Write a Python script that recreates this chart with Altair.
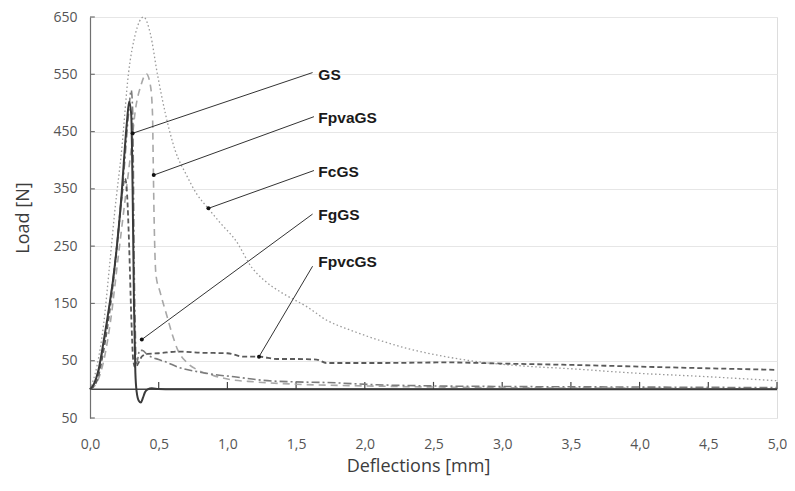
import altair as alt
import pandas as pd

# ---------------- data ----------------
gs_x = [0, 0.03, 0.06, 0.10, 0.14, 0.17, 0.20, 0.23, 0.25, 0.27, 0.285, 0.30, 0.31, 0.32, 0.33, 0.34,
        0.355, 0.37, 0.385, 0.40, 0.42, 0.45, 0.50, 0.60, 1.0, 2.0, 3.0, 4.0, 5.0]
gs_y = [0, 10, 32, 85, 145, 195, 260, 340, 410, 470, 502, 480, 350, 150, 30, -5,
        -20, -23, -15, -5, 0, 2, 0.5, 0, 0, 0, 0, 0, 0]

fpva_x = [0, 0.05, 0.10, 0.15, 0.20, 0.25, 0.30, 0.33, 0.37, 0.41, 0.44, 0.455, 0.46, 0.465, 0.47,
          0.48, 0.51, 0.56, 0.60, 0.64, 0.70, 0.80, 0.90, 1.0, 1.2, 1.5, 2.0, 3.0, 4.0, 5.0]
fpva_y = [0, 12, 50, 120, 220, 320, 420, 487, 530, 551, 530, 480, 400, 320, 260,
          200, 170, 128, 95, 68, 48, 32, 24, 18, 13, 9, 6, 3, 2, 1]

fc_x = [0, 0.05, 0.10, 0.14, 0.18, 0.23, 0.28, 0.33, 0.39, 0.44, 0.49, 0.55, 0.62, 0.70, 0.78, 0.86,
        0.95, 1.06, 1.18, 1.27, 1.40, 1.49, 1.58, 1.72, 1.90, 2.09, 2.30, 2.59, 2.83, 3.20, 3.50,
        3.92, 4.50, 5.0]
fc_y = [0, 40, 115, 210, 310, 417, 551, 620, 650, 620, 551, 480, 417, 375, 340, 316,
        290, 260, 212, 190, 168, 156, 144, 121, 103, 87, 72, 57, 48, 40, 36,
        29, 22, 15]

fg_x = [0, 0.05, 0.10, 0.15, 0.20, 0.25, 0.28, 0.30, 0.31, 0.315, 0.32, 0.33, 0.335, 0.345, 0.36,
        0.38, 0.42, 0.50, 0.55, 0.65, 0.78, 0.90, 1.05, 1.25, 1.50, 1.72, 2.09, 2.5, 3.0, 4.0, 5.0]
fg_y = [0, 20, 80, 160, 260, 390, 480, 522, 490, 400, 250, 100, 45, 50, 68,
        68, 60, 52, 48, 38, 31, 26, 22, 16, 13, 12, 8, 6, 5, 4, 3]

fpvc_x = [0, 0.05, 0.10, 0.15, 0.20, 0.23, 0.255, 0.27, 0.285, 0.30, 0.315, 0.33, 0.35, 0.38, 0.42,
          0.50, 0.64, 0.80, 1.00, 1.12, 1.23, 1.36, 1.50, 1.65, 1.72, 2.09, 2.60, 3.00, 3.44, 4.28, 5.0]
fpvc_y = [0, 15, 70, 150, 260, 335, 368, 340, 250, 130, 50, 38, 45, 58, 62,
          63, 66, 64, 63, 57, 57, 53, 53, 52, 46, 46, 47, 45, 43, 38, 34]

series_names = ["FcGS", "FpvaGS", "FpvcGS", "FgGS", "GS"]
series_x = [fc_x, fpva_x, fpvc_x, fg_x, gs_x]
series_y = [fc_y, fpva_y, fpvc_y, fg_y, gs_y]

label_names = ["GS", "FpvaGS", "FcGS", "FgGS", "FpvcGS"]
label_x = [1.64, 1.64, 1.64, 1.64, 1.64]
label_y = [549, 473, 379, 304, 222]
pointer_x = [0.31, 0.464, 0.862, 0.377, 1.23]
pointer_y = [447, 374, 316, 87, 57]
leader_end_x = [1.62, 1.63, 1.63, 1.62, 1.62]
leader_end_y = [553, 476, 382, 306, 215]

x_ticks = [0.0, 0.5, 1.0, 1.5, 2.0, 2.5, 3.0, 3.5, 4.0, 4.5, 5.0]
y_ticks = [-50, 50, 150, 250, 350, 450, 550, 650]

# ---------------- styles ----------------
styles = {
    "FcGS":   dict(color="#9a9a9a", strokeDash=[1.5, 2.5], strokeWidth=1.3),
    "FpvaGS": dict(color="#a8a8a8", strokeDash=[7, 5], strokeWidth=1.6),
    "FpvcGS": dict(color="#5a5a5a", strokeDash=[5, 3], strokeWidth=1.8),
    "FgGS":   dict(color="#7c7c7c", strokeDash=[8, 3, 2, 3], strokeWidth=1.6),
    "GS":     dict(color="#3a3a3a", strokeWidth=2),
}

FONT = "Open Sans"
xscale = alt.Scale(domain=[0, 5], nice=False, zero=False)
yscale = alt.Scale(domain=[-50, 650], nice=False, zero=False)

x_enc = alt.X("x:Q", scale=xscale, axis=alt.Axis(
    values=x_ticks, title="Deflections [mm]", grid=False, ticks=False, domain=False,
    labelFlush=False,
    labelExpr="replace(format(datum.value, '.1f'), '.', ',')",
    labelFont=FONT, labelFontSize=14, labelColor="#555555", labelPadding=19,
    titleFont=FONT, titleFontSize=18, titleFontWeight="normal", titleColor="#3c3c3c",
    titlePadding=6, titleX=328))
y_enc = alt.Y("y:Q", scale=yscale, axis=alt.Axis(
    values=y_ticks, title="Load [N]", grid=True, gridColor="#e6e6e6", ticks=False,
    domainColor="#707070", domainWidth=1.2, labelFlush=False,
    labelExpr="abs(datum.value)",
    labelFont=FONT, labelFontSize=14, labelColor="#555555", labelPadding=13,
    titleFont=FONT, titleFontSize=18, titleFontWeight="normal", titleColor="#3c3c3c",
    titlePadding=20))

layers = []

# zero line with upward ticks
zero_df = pd.DataFrame({"y": [0]})
layers.append(alt.Chart(zero_df).mark_rule(color="#454545", strokeWidth=1.5).encode(y=y_enc))
tick_df = pd.DataFrame({"x": x_ticks[1:]})
layers.append(alt.Chart(tick_df).mark_rule(color="#454545", strokeWidth=1.2).encode(
    x=x_enc, y=alt.datum(0), y2=alt.datum(13)))
# inner y ticks
ytick_df = pd.DataFrame({"y": y_ticks})
layers.append(alt.Chart(ytick_df).mark_rule(color="#707070", strokeWidth=1.2).encode(
    y=y_enc, x=alt.datum(0), x2=alt.datum(0.035)))

for name, xs, ys in zip(series_names, series_x, series_y):
    df = pd.DataFrame({"x": xs, "y": ys})
    layers.append(alt.Chart(df).mark_line(interpolate="monotone", **styles[name]).encode(
        x=x_enc, y=y_enc, order="x:Q"))

ann = pd.DataFrame({"name": label_names, "x": label_x, "y": label_y,
                    "px": pointer_x, "py": pointer_y,
                    "ex": leader_end_x, "ey": leader_end_y})
layers.append(alt.Chart(ann).mark_rule(color="#333333", strokeWidth=1).encode(
    x=alt.X("px:Q", scale=xscale), y=alt.Y("py:Q", scale=yscale),
    x2="ex:Q", y2="ey:Q"))
layers.append(alt.Chart(ann).mark_circle(color="#111111", opacity=1, size=16).encode(
    x=alt.X("px:Q", scale=xscale), y=alt.Y("py:Q", scale=yscale)))
layers.append(alt.Chart(ann).mark_text(
    align="left", baseline="middle", dx=3, font="Liberation Sans", fontWeight="bold",
    fontSize=15.5, color="#1a1a1a").encode(
    x=alt.X("x:Q", scale=xscale), y=alt.Y("y:Q", scale=yscale), text="name:N"))

chart = alt.layer(*layers).properties(
    width=687, height=401,
    autosize=alt.AutoSizeParams(type="none"),
    padding={"left": 82, "top": 9, "right": 10, "bottom": 62},
).configure_view(stroke="#b5b5b5", strokeWidth=1).configure(background="white")

chart.save("out.html", embed_options={"renderer": "svg", "actions": False})
